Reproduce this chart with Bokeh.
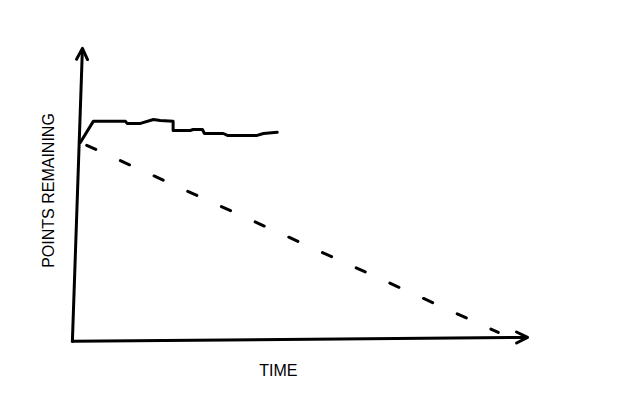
from math import pi

from bokeh.embed import file_html
from bokeh.resources import INLINE
from bokeh.plotting import figure
from bokeh.models import Range1d, Arrow, OpenHead, Label

font = "Liberation Sans"
ink = "black"

# burndown: actual points remaining vs ideal
days = [0, 0.31, 1.08, 1.12, 1.44, 1.75, 1.91, 2.22, 2.22, 2.63, 2.70, 2.92,
        2.97, 3.42, 3.52, 4.23, 4.38, 4.71]
points_left = [100, 111.1, 111.1, 110, 110, 112.1, 111.6, 111.1, 106.3, 106.3,
               106.8, 106.8, 104.7, 104.7, 103.7, 103.7, 104.7, 105.3]

ideal_days = [0, 10]
ideal_points = [100, 0]

# hand drawn axes (corner and arrow tips, data units)
axis_origin = (-0.19, -4.7)
time_axis_tip = (10.7, -2.6)
points_axis_tip = (0.05, 149.5)

x_label = "TIME"
y_label = "POINTS REMAINING"

p = figure(width=624, height=384, output_backend="svg", toolbar_location=None,
           tools="", x_axis_location=None, y_axis_location=None,
           x_range=Range1d(-1.91, 13.02), y_range=Range1d(-27.4, 174.7),
           min_border=0)
p.grid.grid_line_color = None
p.outline_line_color = None

# axes with open arrow heads
for tip in (time_axis_tip, points_axis_tip):
    p.add_layout(Arrow(end=OpenHead(size=11, line_width=3, line_color=ink,
                                    line_cap="round", line_join="round"),
                       x_start=axis_origin[0], y_start=axis_origin[1],
                       x_end=tip[0], y_end=tip[1],
                       line_width=3, line_color=ink, line_cap="round"))

# ideal line
p.line(ideal_days, ideal_points, line_width=3, line_color=ink,
       line_dash="10 27", line_dash_offset=30, line_cap="round")

# actual line
p.line(days, points_left, line_width=3, line_color=ink,
       line_join="round", line_cap="round")

p.add_layout(Label(x=4.74, y=-20, text=x_label, text_font=font,
                   text_font_size="16px", text_color=ink,
                   text_align="center", text_baseline="middle"))
p.add_layout(Label(x=-0.77, y=74.7, text=y_label, text_font=font,
                   text_font_size="16px", text_color=ink, angle=pi/2,
                   text_align="center", text_baseline="middle"))

open("out.html", "w").write(file_html(p, INLINE))
